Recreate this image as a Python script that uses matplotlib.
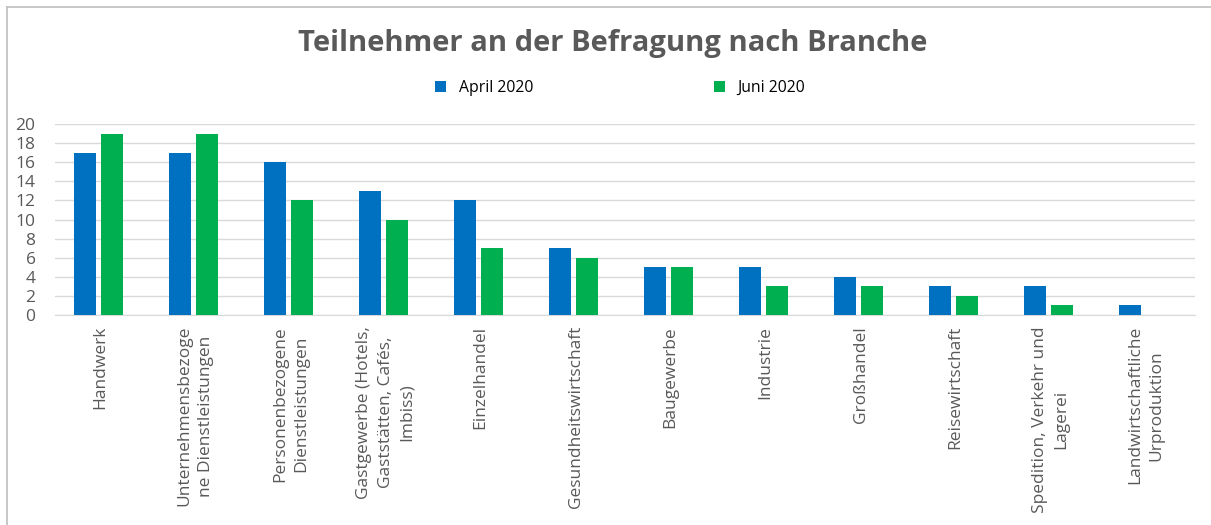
import numpy as np
import matplotlib
matplotlib.use("Agg")
import matplotlib.pyplot as plt
from matplotlib.lines import Line2D

categories = [
    "Handwerk",
    "Unternehmensbezoge\nne Dienstleistungen",
    "Personenbezogene\nDienstleistungen",
    "Gastgewerbe (Hotels,\nGaststätten, Cafés,\nImbiss)",
    "Einzelhandel",
    "Gesundheitswirtschaft",
    "Baugewerbe",
    "Industrie",
    "Großhandel",
    "Reisewirtschaft",
    "Spedition, Verkehr und\nLagerei",
    "Landwirtschaftliche\nUrproduktion",
]
april_2020 = [17, 17, 16, 13, 12, 7, 5, 5, 4, 3, 3, 1]
juni_2020 = [19, 19, 12, 10, 7, 6, 5, 3, 3, 2, 1, 0]
y_ticks = [0, 2, 4, 6, 8, 10, 12, 14, 16, 18, 20]

BLUE = "#0070C0"
GREEN = "#00B050"
GRID = "#D9D9D9"
TEXT = "#595959"

plt.rcParams["font.family"] = ["Open Sans", "DejaVu Sans"]

fig = plt.figure(figsize=(12.11, 5.25), dpi=100)
W, H = 1211, 525
# plot area in pixels: x 55..1195, y 124 (value 20)..315 (value 0)
ax = fig.add_axes([55 / W, 1 - 315 / H, (1195 - 55) / W, (315 - 124) / H])

x = np.arange(len(categories))
bar_w = 0.23
gap = 0.05
ax.bar(x - (bar_w + gap) / 2 - 0.04, april_2020, width=bar_w, color=BLUE, label="April 2020", zorder=3)
ax.bar(x + (bar_w + gap) / 2 - 0.04, juni_2020, width=bar_w, color=GREEN, label="Juni 2020", zorder=3)

ax.set_xlim(-0.5, len(categories) - 0.5)
ax.set_ylim(0, 20)
ax.set_yticks(y_ticks)
ax.yaxis.grid(True, color=GRID, linewidth=1, zorder=0)
ax.set_axisbelow(True)
for side in ["top", "right", "left"]:
    ax.spines[side].set_visible(False)
ax.spines["bottom"].set_color(GRID)
ax.tick_params(axis="both", length=0, colors=TEXT, labelsize=12.5)
ax.tick_params(axis="y", pad=14)
ax.set_xticks(x - 0.02)
ax.set_xticklabels(categories, rotation=90, va="top", ha="center",
                   multialignment="center", fontsize=12.5, color=TEXT,
                   linespacing=1.47)
ax.tick_params(axis="x", pad=8)

fig.text(613 / W, 1 - 43 / H, "Teilnehmer an der Befragung nach Branche",
         ha="center", va="center", fontsize=21, fontweight="bold", color=TEXT)

fig.legend(loc="center", bbox_to_anchor=(620 / W, 1 - 88 / H), ncol=2,
           frameon=False, fontsize=11.3, handlelength=0.7, handleheight=0.7,
           handletextpad=0.8, columnspacing=11.5)

# chart border (only top and left edges visible in the crop)
fig.add_artist(Line2D([7 / W, 7 / W], [0, 1 - 7 / H], transform=fig.transFigure,
                      color="#BFBFBF", linewidth=1.2))
fig.add_artist(Line2D([7 / W, 1], [1 - 7 / H, 1 - 7 / H], transform=fig.transFigure,
                      color="#BFBFBF", linewidth=1.2))

fig.savefig("out.png", dpi=100, facecolor="white")
